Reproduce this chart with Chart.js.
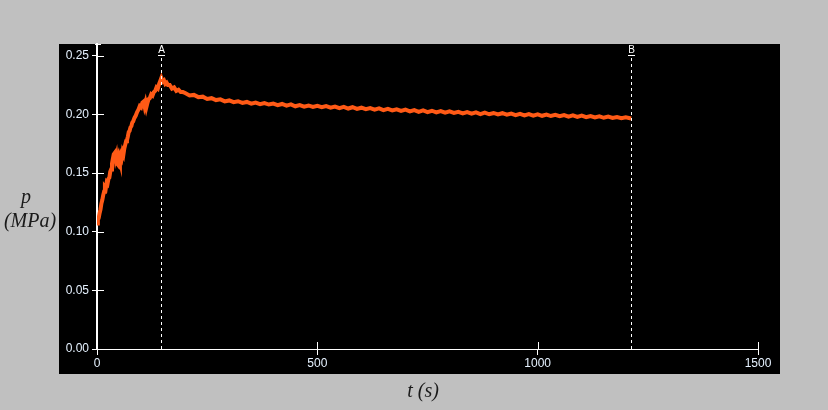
<!DOCTYPE html>
<html>
<head>
<meta charset="utf-8">
<script src="https://cdn.jsdelivr.net/npm/chart.js@4.4.1/dist/chart.umd.min.js"></script>
<style>
  html, body { margin: 0; padding: 0; background: #c0c0c0; }
  #wrap { width: 828px; height: 410px; }
</style>
</head>
<body>
<div id="wrap"><canvas id="c" width="828" height="410"></canvas></div>
<script>
// time (s) and pressure (MPa)
const times = [
  0, 2, 4, 6, 8, 10, 12, 14, 16, 18, 20, 22, 24, 26, 28, 30, 32, 34, 36, 38,
  40, 42, 44, 46, 48, 50, 52, 54, 56, 58, 60, 62, 64, 66, 68, 70, 72, 74, 76, 78,
  80, 82, 85, 88, 91, 94, 97, 100, 103, 106, 108, 110, 112, 114, 117, 120, 123, 126, 129, 132,
  135, 138, 141, 144, 146, 149, 152, 155, 158, 161, 165, 170, 175, 180, 185, 190, 195,
  200, 210, 220, 230, 240, 250, 260, 270, 280, 290, 300, 310, 320, 330, 340, 350, 360, 370, 380, 390,
  400, 410, 420, 430, 440, 450, 460, 470, 480, 490, 500, 510, 520, 530, 540, 550, 560, 570, 580, 590,
  600, 610, 620, 630, 640, 650, 660, 670, 680, 690, 700, 710, 720, 730, 740, 750, 760, 770, 780, 790,
  800, 810, 820, 830, 840, 850, 860, 870, 880, 890, 900, 910, 920, 930, 940, 950, 960, 970, 980, 990,
  1000, 1010, 1020, 1030, 1040, 1050, 1060, 1070, 1080, 1090, 1100, 1110, 1120, 1130, 1140, 1150, 1160, 1170, 1180, 1190,
  1200, 1212
]
const pressure = [
  0.107, 0.110, 0.112, 0.116, 0.119, 0.124, 0.127, 0.131, 0.134, 0.138, 0.137, 0.142, 0.141, 0.145, 0.146, 0.151, 0.153, 0.158, 0.162, 0.166,
  0.167, 0.162, 0.165, 0.158, 0.157, 0.163, 0.160, 0.165, 0.163, 0.168, 0.166, 0.171, 0.174, 0.177, 0.178, 0.181, 0.185, 0.186, 0.189, 0.190,
  0.193, 0.194, 0.197, 0.199, 0.202, 0.204, 0.207, 0.206, 0.210, 0.211, 0.207, 0.210, 0.206, 0.209, 0.213, 0.214, 0.217, 0.216, 0.219, 0.220,
  0.223, 0.222, 0.226, 0.229, 0.231, 0.228, 0.229, 0.226, 0.227, 0.225, 0.225, 0.222, 0.223, 0.220, 0.221, 0.219, 0.219,
  0.2182, 0.2161, 0.2166, 0.2147, 0.2151, 0.2131, 0.2138, 0.2122, 0.2128, 0.2111, 0.2119, 0.2104, 0.2112, 0.2098, 0.2106, 0.2091, 0.2100, 0.2087, 0.2097, 0.2084,
  0.2092, 0.2079, 0.2089, 0.2075, 0.2085, 0.2069, 0.2079, 0.2066, 0.2076, 0.2063, 0.2073, 0.2061, 0.2071, 0.2058, 0.2067, 0.2053, 0.2064, 0.2050, 0.2061, 0.2047,
  0.2057, 0.2044, 0.2054, 0.2041, 0.2051, 0.2036, 0.2047, 0.2034, 0.2043, 0.2029, 0.2040, 0.2026, 0.2037, 0.2022, 0.2034, 0.2019, 0.2031, 0.2017, 0.2028, 0.2014,
  0.2025, 0.2012, 0.2022, 0.2008, 0.2020, 0.2006, 0.2017, 0.2003, 0.2015, 0.2001, 0.2012, 0.1999, 0.2010, 0.1997, 0.2007, 0.1994, 0.2005, 0.1992, 0.2003, 0.1990,
  0.2001, 0.1988, 0.1999, 0.1986, 0.1996, 0.1984, 0.1994, 0.1981, 0.1991, 0.1979, 0.1989, 0.1976, 0.1986, 0.1974, 0.1983, 0.1971, 0.1981, 0.1969, 0.1978, 0.1967,
  0.1975, 0.1965
]

// marker lines
const markerLabels = ['A', 'B']
const markerTimes = [146, 1212]

const yTicks = [0, 0.05, 0.1, 0.15, 0.2, 0.25]
const xTicks = [0, 500, 1000, 1500]

const tickColor = '#e6f2ff'
const traceColor = '#ff5a16'

// grey page + black panel behind the plot
const panelPlugin = {
  id: 'panel',
  beforeDraw(chart) {
    const { ctx, chartArea: a } = chart
    ctx.save()
    ctx.fillStyle = '#c0c0c0'
    ctx.fillRect(0, 0, chart.width, chart.height)
    ctx.fillStyle = '#000'
    ctx.fillRect(a.left - 38, a.top, a.right - a.left + 60, a.bottom - a.top + 25)
    ctx.restore()
  },
}

// inner tick halves, dashed markers and axis titles
const overlayPlugin = {
  id: 'overlay',
  afterDatasetsDraw(chart) {
    const { ctx, chartArea: a, scales } = chart
    const x = scales.x
    const y = scales.y
    ctx.save()

    ctx.strokeStyle = '#fff'
    ctx.lineWidth = 1
    ctx.beginPath()
    yTicks.forEach((v) => {
      if (v === 0) return
      const py = Math.round(y.getPixelForValue(v)) + 0.5
      ctx.moveTo(a.left, py)
      ctx.lineTo(a.left + 7, py)
    })
    xTicks.forEach((v) => {
      if (v === 0) return
      const px = Math.round(x.getPixelForValue(v)) + 0.5
      ctx.moveTo(px, a.bottom)
      ctx.lineTo(px, a.bottom - 7)
    })
    // cap at the top of the y axis
    ctx.moveTo(a.left - 2, a.top + 0.5)
    ctx.lineTo(a.left + 4, a.top + 0.5)
    ctx.stroke()

    // dashed markers
    markerTimes.forEach((t, i) => {
      const px = Math.round(x.getPixelForValue(t)) + 0.5
      ctx.setLineDash([3, 3])
      ctx.beginPath()
      ctx.moveTo(px, a.top + 14)
      ctx.lineTo(px, a.bottom)
      ctx.stroke()
      ctx.setLineDash([])
      ctx.beginPath()
      ctx.moveTo(px - 3.5, a.top + 11.5)
      ctx.lineTo(px + 3.5, a.top + 11.5)
      ctx.stroke()
      ctx.fillStyle = '#fff'
      ctx.font = '10px "Liberation Sans", Arial, sans-serif'
      ctx.textAlign = 'center'
      ctx.textBaseline = 'alphabetic'
      ctx.fillText(markerLabels[i], px, a.top + 9)
    })

    // axis titles
    ctx.fillStyle = '#1a1a1a'
    ctx.font = 'italic 20px "Liberation Serif", "Times New Roman", serif'
    ctx.textAlign = 'center'
    ctx.textBaseline = 'middle'
    ctx.fillText('p', 26, 198)
    ctx.fillText('(MPa)', 30, 222)
    ctx.fillText('t (s)', 423, 392)
    ctx.restore()
  },
}

const points = times.map((t, i) => ({ x: t, y: pressure[i] }))

new Chart(document.getElementById('c'), {
  type: 'line',
  data: {
    datasets: [
      {
        data: points,
        borderColor: traceColor,
        backgroundColor: traceColor,
        borderWidth: 4,
        pointRadius: 0,
        tension: 0,
        fill: false,
      },
    ],
  },
  options: {
    responsive: false,
    animation: false,
    devicePixelRatio: 1,
    layout: { padding: { top: 44, right: 70, bottom: 0, left: 0 } },
    plugins: {
      legend: { display: false },
      tooltip: { enabled: false },
    },
    scales: {
      x: {
        type: 'linear',
        min: 0,
        max: 1500,
        afterBuildTicks: (s) => {
          s.ticks = xTicks.map((v) => ({ value: v }))
        },
        afterFit: (s) => {
          s.height = 61
        },
        ticks: {
          color: tickColor,
          font: { family: '"Liberation Sans", Arial, sans-serif', size: 12 },
          padding: 1,
          maxRotation: 0,
          callback: (v) => String(v),
        },
        grid: { drawOnChartArea: false, drawTicks: true, tickLength: 6, color: '#fff', lineWidth: 1 },
        border: { color: '#fff', width: 1 },
      },
      y: {
        type: 'linear',
        min: 0,
        max: 0.26,
        afterBuildTicks: (s) => {
          s.ticks = yTicks.map((v) => ({ value: v }))
        },
        afterFit: (s) => {
          s.width = 97
        },
        ticks: {
          color: tickColor,
          font: { family: '"Liberation Sans", Arial, sans-serif', size: 12 },
          padding: 3,
          callback: (v) => v.toFixed(2),
        },
        grid: { drawOnChartArea: false, drawTicks: true, tickLength: 5, color: '#fff', lineWidth: 1 },
        border: { color: '#fff', width: 2 },
      },
    },
  },
  plugins: [panelPlugin, overlayPlugin],
})
</script>
</body>
</html>
